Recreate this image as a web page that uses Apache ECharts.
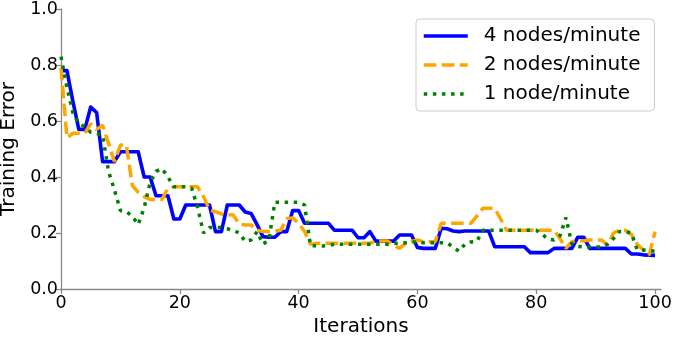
<!DOCTYPE html>
<html>
<head>
<meta charset="utf-8">
<script src="https://cdn.jsdelivr.net/npm/echarts@6/dist/echarts.min.js"></script>
<style>
  html, body { margin: 0; padding: 0; background: #fff; }
  #chart { width: 675px; height: 339px; }
</style>
</head>
<body>
<div id="chart"></div>
<script>
// training error per iteration (0..100)
const nodes4 = [
  0.78, 0.78, 0.67, 0.57, 0.57, 0.65, 0.63, 0.455, 0.455, 0.455,
  0.49, 0.49, 0.49, 0.49, 0.40, 0.40, 0.333, 0.333, 0.333, 0.25,
  0.25, 0.30, 0.30, 0.30, 0.30, 0.30, 0.205, 0.205, 0.30, 0.30,
  0.30, 0.275, 0.27, 0.23, 0.187, 0.185, 0.185, 0.205, 0.205, 0.28,
  0.28, 0.235, 0.235, 0.235, 0.235, 0.235, 0.21, 0.21, 0.21, 0.21,
  0.183, 0.183, 0.205, 0.171, 0.171, 0.171, 0.171, 0.193, 0.193, 0.193,
  0.148, 0.145, 0.145, 0.145, 0.217, 0.215, 0.207, 0.205, 0.207, 0.207,
  0.207, 0.207, 0.207, 0.151, 0.151, 0.151, 0.151, 0.151, 0.151, 0.13,
  0.13, 0.13, 0.13, 0.145, 0.145, 0.145, 0.145, 0.185, 0.185, 0.145,
  0.145, 0.145, 0.145, 0.145, 0.145, 0.145, 0.125, 0.125, 0.122, 0.121,
  0.12
];
const nodes2 = [
  0.79, 0.54, 0.556, 0.556, 0.556, 0.59, 0.57, 0.585, 0.52, 0.455,
  0.514, 0.514, 0.37, 0.345, 0.33, 0.32, 0.32, 0.32, 0.36, 0.365,
  0.365, 0.365, 0.365, 0.365, 0.33, 0.282, 0.276, 0.268, 0.265, 0.264,
  0.232, 0.229, 0.229, 0.21, 0.205, 0.205, 0.207, 0.21, 0.252, 0.254,
  0.235, 0.205, 0.16, 0.163, 0.163, 0.163, 0.163, 0.163, 0.163, 0.163,
  0.163, 0.163, 0.163, 0.171, 0.171, 0.171, 0.157, 0.145, 0.163, 0.17,
  0.175, 0.169, 0.169, 0.169, 0.235, 0.235, 0.235, 0.235, 0.235, 0.235,
  0.26, 0.288, 0.288, 0.288, 0.25, 0.21, 0.21, 0.21, 0.21, 0.21,
  0.21, 0.21, 0.21, 0.21, 0.18, 0.145, 0.169, 0.172, 0.172, 0.175,
  0.175, 0.175, 0.157, 0.2, 0.21, 0.21, 0.195, 0.16, 0.14, 0.121,
  0.205
];
const nodes1 = [
  0.83, 0.72, 0.63, 0.59, 0.58, 0.56, 0.555, 0.55, 0.42, 0.354,
  0.28, 0.276, 0.26, 0.23, 0.29, 0.38, 0.42, 0.43, 0.40, 0.365,
  0.365, 0.365, 0.36, 0.29, 0.20, 0.22, 0.22, 0.22, 0.215, 0.21,
  0.20, 0.17, 0.175, 0.205, 0.16, 0.175, 0.31, 0.31, 0.31, 0.31,
  0.31, 0.30, 0.155, 0.154, 0.154, 0.155, 0.16, 0.16, 0.16, 0.16,
  0.16, 0.16, 0.16, 0.16, 0.16, 0.16, 0.163, 0.163, 0.165, 0.167,
  0.169, 0.165, 0.165, 0.165, 0.165, 0.165, 0.15, 0.135, 0.16, 0.168,
  0.17, 0.21, 0.21, 0.21, 0.21, 0.21, 0.21, 0.21, 0.21, 0.21,
  0.21, 0.195, 0.178, 0.175, 0.19, 0.255, 0.16, 0.152, 0.15, 0.15,
  0.15, 0.15, 0.16, 0.18, 0.205, 0.205, 0.2, 0.14, 0.139, 0.137,
  0.135
];
const seriesNames = ['4 nodes/minute', '2 nodes/minute', '1 node/minute'];
const xTicks = [0, 20, 40, 60, 80, 100];

const font = 'DejaVu Sans';
const axisGray = '#8a8a8a';

function toPoints(arr) {
  return arr.map((v, i) => [i, v]);
}

const myChart = echarts.init(document.getElementById('chart'), null, { renderer: 'canvas' });

const option = {
  animation: false,
  backgroundColor: '#fff',
  textStyle: { fontFamily: font },
  grid: { left: 61, right: 14, top: 9, bottom: 50, outerBoundsMode: 'none', containLabel: false },
  legend: {
    orient: 'vertical',
    left: 416,
    top: 19,
    padding: [7, 14, 7, 6],
    itemGap: 9,
    itemWidth: 44,
    itemHeight: 14,
    borderColor: '#cccccc',
    borderWidth: 1,
    borderRadius: 4,
    backgroundColor: 'rgba(255,255,255,0.8)',
    // hide the round marker drawn on line-series legend icons
    itemStyle: { opacity: 0 },
    lineStyle: { width: 3.5 },
    textStyle: {
      fontFamily: font,
      fontSize: 20,
      color: '#000',
      lineHeight: 20,
      padding: [0, 0, 0, 11]
    },
    data: seriesNames
  },
  xAxis: {
    type: 'value',
    min: 0,
    max: 101,
    name: 'Iterations',
    nameLocation: 'middle',
    nameGap: 28,
    nameTextStyle: { fontFamily: font, fontSize: 20, color: '#000' },
    axisLine: { show: true, lineStyle: { color: axisGray, width: 1.3 } },
    axisTick: { show: true, length: 5, lineStyle: { color: axisGray, width: 1.3 }, customValues: xTicks },
    axisLabel: { fontFamily: font, fontSize: 17.5, color: '#000', margin: 5, customValues: xTicks },
    splitLine: { show: false }
  },
  yAxis: {
    type: 'value',
    min: 0,
    max: 1,
    interval: 0.2,
    name: 'Training Error',
    nameLocation: 'middle',
    nameGap: 31,
    nameTextStyle: { fontFamily: font, fontSize: 20, color: '#000' },
    axisLine: { show: true, lineStyle: { color: axisGray, width: 1.3 } },
    axisTick: { show: true, length: 5, lineStyle: { color: axisGray, width: 1.3 } },
    axisLabel: {
      fontFamily: font, fontSize: 17.5, color: '#000', margin: 3,
      formatter: v => v.toFixed(1)
    },
    splitLine: { show: false }
  },
  series: [
    {
      name: seriesNames[0],
      type: 'line',
      data: toPoints(nodes4),
      symbol: 'none',
      z: 3,
      lineStyle: { color: '#0000ff', width: 3.6, join: 'round' },
      itemStyle: { color: '#0000ff' }
    },
    {
      name: seriesNames[1],
      type: 'line',
      data: toPoints(nodes2),
      symbol: 'none',
      z: 4,
      lineStyle: { color: '#ffa500', width: 3.5, type: [12.6, 5.4], cap: 'butt' },
      itemStyle: { color: '#ffa500' }
    },
    {
      name: seriesNames[2],
      type: 'line',
      data: toPoints(nodes1),
      symbol: 'none',
      z: 5,
      lineStyle: { color: '#008000', width: 3.5, type: [3.5, 5.6], cap: 'butt' },
      itemStyle: { color: '#008000' }
    }
  ]
};

myChart.setOption(option);
window.addEventListener('resize', () => {
  myChart.resize();
});
</script>
</body>
</html>
